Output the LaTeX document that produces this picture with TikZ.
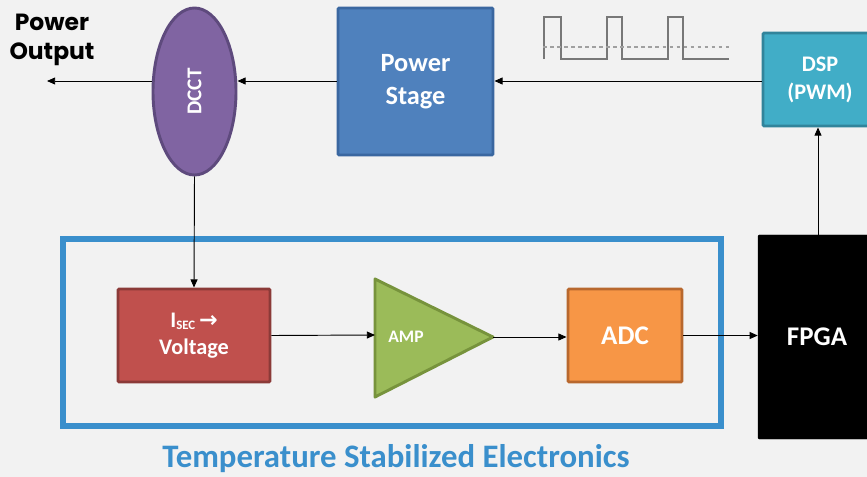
\documentclass[tikz,border=0pt]{standalone}
\usepackage{fontspec}
\setmainfont{Carlito}
\newfontfamily\popfont{Poppins}
\newfontfamily\symfont{DejaVu Sans}
\usepackage{tikz}
\usetikzlibrary{shapes.geometric, arrows.meta, positioning, calc}

\definecolor{bggray}{RGB}{242,242,242}
\definecolor{psblue}{RGB}{79,129,189}
\definecolor{psedge}{RGB}{58,103,160}
\definecolor{dcctfill}{RGB}{128,100,162}
\definecolor{dcctedge}{RGB}{94,74,125}
\definecolor{dspfill}{RGB}{65,173,199}
\definecolor{dspedge}{RGB}{49,132,155}
\definecolor{isecfill}{RGB}{192,80,77}
\definecolor{isecedge}{RGB}{139,58,56}
\definecolor{ampfill}{RGB}{155,187,89}
\definecolor{ampedge}{RGB}{119,147,60}
\definecolor{adcfill}{RGB}{247,150,70}
\definecolor{adcedge}{RGB}{184,104,46}
\definecolor{frameblue}{RGB}{58,143,204}
\definecolor{wavegray}{RGB}{120,120,120}

\begin{document}
\begin{tikzpicture}[x=0.03cm, y=-0.03cm, >={Triangle[length=7pt,width=6pt]},
		blk/.style={draw, line width=2.5pt, rounded corners=1pt, text=white, font=\bfseries, align=center, inner sep=0pt},
		link/.style={->, line width=0.8pt}]
				\clip (0,0) rectangle (867,477);
				\fill[bggray] (0,0) rectangle (867,477);
				
				\node[font=\popfont\bfseries\fontsize{20}{25}\selectfont, align=center] (out) at (52,40) {Power\\Output};
				\coordinate (pout) at (47,81);
				
				\node[draw=dcctedge, fill=dcctfill, line width=2.5pt, ellipse, minimum width=2.49cm, minimum height=5.01cm, inner sep=0pt] (dcct) at (194.5,91.5) {};
				\node[rotate=90, text=white, font=\bfseries\fontsize{18}{20}\selectfont] (dccttxt) at (dcct.center) {DCCT};
				
				\node[blk, draw=psedge, fill=psblue, minimum width=4.65cm, minimum height=4.41cm, font=\bfseries\fontsize{22.5}{28}\selectfont] (ps) at (415.5,81.5) {Power\\Stage};
				
				\node[blk, draw=dspedge, fill=dspfill, minimum width=3.42cm, minimum height=2.79cm, font=\bfseries\fontsize{19}{24}\selectfont] (dsp) at (820,79.5) {DSP\\(PWM)};
				
				\draw[wavegray, line width=1pt] (544,59) -- (544,17) -- (561,17) -- (561,59) -- (607,59) -- (607,17) -- (622,17) -- (622,59) -- (668,59) -- (668,17) -- (683,17) -- (683,59) -- (729,59);
				\draw[wavegray!70, line width=0.9pt, dashed] (543,47) -- (731,47);
				
				\node[draw=black, fill=black, rounded corners=1pt, minimum width=3.54cm, minimum height=6.12cm, text=white, font=\bfseries\fontsize{23}{28}\selectfont, inner sep=0pt] (fpga) at (817,337) {FPGA};
				
				\draw[frameblue, line width=5.1pt] (63,239) rectangle (721,426);
				\node[text=frameblue, font=\bfseries\fontsize{28}{32}\selectfont] (temp) at (396,459) {Temperature Stabilized Electronics};
				
				\node[blk, draw=isecedge, fill=isecfill, minimum width=4.56cm, minimum height=2.79cm, font=\bfseries\fontsize{19}{23}\selectfont] (isec) at (194,335.5) {I\raisebox{-1.5pt}{\fontsize{11}{11}\selectfont SEC}\,{\symfont\bfseries\fontsize{19}{19}\selectfont →}\\Voltage};
				
				\draw[draw=ampedge, fill=ampfill, line width=2.5pt, line join=round] (375,279) -- (493,337) -- (375,397) -- cycle;
				\coordinate (ampin) at (375,335);
				\coordinate (ampout) at (493,337);
				\node[text=white, font=\bfseries\fontsize{15}{18}\selectfont] (amp) at (406,337) {AMP};
				
				\node[blk, draw=adcedge, fill=adcfill, minimum width=3.42cm, minimum height=2.79cm, font=\bfseries\fontsize{23}{28}\selectfont] (adc) at (625,335.5) {ADC};
				
				\draw[link] (dcct.west |- pout) -- (pout);
				\draw[link] (ps.west |- pout) -- (dcct.east |- pout);
				\draw[link] (dsp.west |- pout) -- (ps.east |- pout);
				\draw[link] (fpga.north -| 818,0) -- (dsp.south -| 818,0);
				\draw[link] (dcct.south) -- (isec.north);
				\draw[link] (isec.east) -- (ampin);
				\draw[link] (ampout) -- (ampout -| adc.west);
				\draw[link] (adc.east) -- (adc.east -| fpga.west);
			\end{tikzpicture}
\end{document}
